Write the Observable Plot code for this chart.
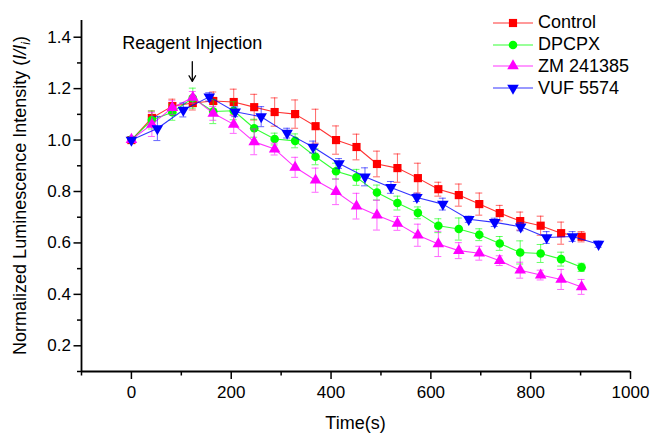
<!DOCTYPE html>
<html><head><meta charset="utf-8">
<script src="https://cdn.jsdelivr.net/npm/d3@7"></script>
<script src="https://cdn.jsdelivr.net/npm/@observablehq/plot@0.6"></script>
<style>
body{margin:0;background:#fff;font-family:"Liberation Sans",Arial,sans-serif;}
#wrap{position:relative;width:662px;height:434px;}
#legend{position:absolute;left:491px;top:11.7px;font-size:18px;color:#000;}
.row{display:flex;align-items:center;height:21.9px;}
.row svg{display:block;margin-right:4px;}
</style></head><body><div id="wrap"></div>
<script>
const seriesNames = ["Control","DPCPX","ZM 241385","VUF 5574"];
const seriesColors = ["#ff0000","#00ff00","#ff00ff","#0000ff"];
const seriesSymbols = ["square","circle","triangle","triangle-down"];

const timeA = [0,41,82,123,164,205,246,287,328,369,410,451,492,533,574,615,656,697,738,779,820,861,902];
const timeB = [0,52,104,156,208,260,312,364,416,468,520,572,624,676,728,780,832,884,936];

const controlMean = [1.000,1.086,1.132,1.144,1.152,1.148,1.128,1.109,1.101,1.054,1.000,0.973,0.907,0.891,0.852,0.809,0.786,0.751,0.716,0.685,0.667,0.638,0.624];
const controlErr  = [0,0.027,0.027,0.027,0.035,0.050,0.050,0.055,0.055,0.066,0.055,0.050,0.050,0.055,0.058,0.027,0.043,0.043,0.030,0.035,0.037,0.043,0.020];

const dpcpxMean = [1.002,1.078,1.108,1.163,1.111,1.114,1.046,1.004,0.997,0.935,0.879,0.855,0.796,0.755,0.717,0.667,0.654,0.632,0.598,0.563,0.559,0.537,0.505];
const dpcpxErr  = [0,0.035,0.031,0.039,0.047,0.035,0.035,0.023,0.027,0.031,0.031,0.031,0.029,0.027,0.023,0.027,0.043,0.023,0.027,0.045,0.035,0.027,0.016];

const zmMean = [1.002,1.061,1.126,1.166,1.104,1.061,0.993,0.965,0.894,0.844,0.799,0.743,0.708,0.676,0.630,0.596,0.570,0.560,0.531,0.494,0.475,0.458,0.429];
const zmErr  = [0,0.047,0.027,0.023,0.027,0.035,0.050,0.023,0.039,0.047,0.050,0.050,0.058,0.027,0.043,0.049,0.031,0.027,0.019,0.031,0.019,0.039,0.029];

const vufMean = [1.000,1.045,1.117,1.168,1.110,1.091,1.027,0.973,0.909,0.857,0.816,0.777,0.751,0.692,0.680,0.663,0.621,0.625,0.595];
const vufErr  = [0,0.047,0.027,0.016,0.019,0.039,0.019,0.023,0.019,0.035,0.023,0.016,0.023,0.012,0.016,0.016,0.023,0.019,0.012];

const xMajorTicks = [0,200,400,600,800,1000];
const xMinorTicks = [-100,100,300,500,700,900];
const yMajorTicks = [0.2,0.4,0.6,0.8,1.0,1.2,1.4];
const yMinorTicks = [0.1,0.3,0.5,0.7,0.9,1.1,1.3];

const annotation = [{t:122, v:1.378, label:"Reagent Injection"}];
const arrowSpec = [{t:122, v1:1.305, v2:1.228}];

const times = [timeA,timeA,timeA,timeB];
const means = [controlMean,dpcpxMean,zmMean,vufMean];
const errs = [controlErr,dpcpxErr,zmErr,vufErr];

const series = seriesNames.map((name,k)=>times[k].map((t,i)=>({name,t,v:means[k][i],e:errs[k][i]})));

const symbolOf = {square:"square",circle:"circle",triangle:"triangle","triangle-down":"triangle"};
const radiusOf = {square:4.6,circle:4.3,triangle:4.3,"triangle-down":4.3};

const marks = [];
series.forEach((data,k)=>{
  const c = seriesColors[k], s = seriesSymbols[k];
  marks.push(Plot.line(data,{x:"t",y:"v",stroke:c,strokeWidth:1.1,strokeOpacity:0.8}));
  const eb = data.filter(d=>d.e>0);
  marks.push(Plot.ruleX(eb,{x:"t",y1:d=>d.v-d.e,y2:d=>d.v+d.e,stroke:c,strokeWidth:1,strokeOpacity:0.6}));
  marks.push(Plot.ruleY(eb,{y:d=>d.v+d.e,x1:d=>d.t-7,x2:d=>d.t+7,stroke:c,strokeWidth:1,strokeOpacity:0.6}));
  marks.push(Plot.ruleY(eb,{y:d=>d.v-d.e,x1:d=>d.t-7,x2:d=>d.t+7,stroke:c,strokeWidth:1,strokeOpacity:0.6}));
  marks.push(Plot.dot(data,{x:"t",y:"v",symbol:()=>symbolOf[s],r:radiusOf[s],fill:c,stroke:"none",rotate:s==="triangle-down"?180:0}));
});

const plot = Plot.plot({
  width:662, height:434,
  marginLeft:81, marginRight:32, marginTop:20, marginBottom:63,
  style:{fontFamily:"Liberation Sans, Arial, sans-serif", background:"#fff", color:"#000"},
  x:{domain:[-100,1000]},
  y:{domain:[0.1,1.465]},
  marks:[
    ...marks,
    Plot.axisX({ticks:xMajorTicks, tickSize:8, tickPadding:6, tickFormat:d3.format("d"), fontSize:17, label:null, strokeWidth:1.5}),
    Plot.axisX({ticks:xMinorTicks, tickSize:4.5, tickFormat:()=>"", label:null, strokeWidth:1.5}),
    Plot.axisY({ticks:yMajorTicks, tickSize:7.5, tickPadding:3, tickFormat:d3.format(".1f"), fontSize:17, label:null, strokeWidth:1.5}),
    Plot.axisY({ticks:yMinorTicks, tickSize:4, tickFormat:()=>"", label:null, strokeWidth:1.5}),
    Plot.ruleX([-100],{stroke:"#000",strokeWidth:1.8}),
    Plot.ruleY([0.1],{stroke:"#000",strokeWidth:1.8}),
    Plot.text(annotation,{x:"t",y:"v",text:"label",fontSize:18,fill:"#000"}),
    Plot.arrow(arrowSpec,{x1:"t",x2:"t",y1:"v1",y2:"v2",stroke:"#000",strokeWidth:1.3,headLength:9})
  ]
});

document.getElementById("wrap").appendChild(plot);

const svg = d3.select(plot);
// x title
svg.append("text").attr("x",(81+662-32)/2).attr("y",429).attr("text-anchor","middle")
  .attr("font-size",18).attr("fill","#000").text("Time(s)");
// y title
const yt = svg.append("text").attr("transform",`translate(26,${(20+434-63)/2}) rotate(-90)`)
  .attr("text-anchor","middle").attr("font-size",18).attr("fill","#000");
yt.append("tspan").text("Normalized Luminescence Intensity (");
yt.append("tspan").attr("font-style","italic").text("I/I");
yt.append("tspan").attr("font-style","italic").attr("font-size",12).attr("dy",4).text("i");
yt.append("tspan").attr("dy",-4).text(")");

// legend
const lg = document.createElement("div");
lg.id = "legend";
document.getElementById("wrap").appendChild(lg);
seriesNames.forEach((name,k)=>{
  const row = document.createElement("div");
  row.className="row";
  const c = seriesColors[k], s = seriesSymbols[k];
  const sw = d3.create("svg").attr("width",43).attr("height",22);
  sw.append("line").attr("x1",2).attr("x2",42).attr("y1",11).attr("y2",11).attr("stroke",c).attr("stroke-width",1.1).attr("stroke-opacity",0.8);
  const r = radiusOf[s];
  const sym = s==="square"?d3.symbolSquare:s==="circle"?d3.symbolCircle:d3.symbolTriangle;
  sw.append("path").attr("d",d3.symbol(sym,r*r*Math.PI)()).attr("fill",c)
    .attr("transform",`translate(22,11)${s==="triangle-down"?" rotate(180)":""}`);
  row.appendChild(sw.node());
  const sp = document.createElement("span"); sp.textContent=name; row.appendChild(sp);
  lg.appendChild(row);
});
</script>
</body></html>
